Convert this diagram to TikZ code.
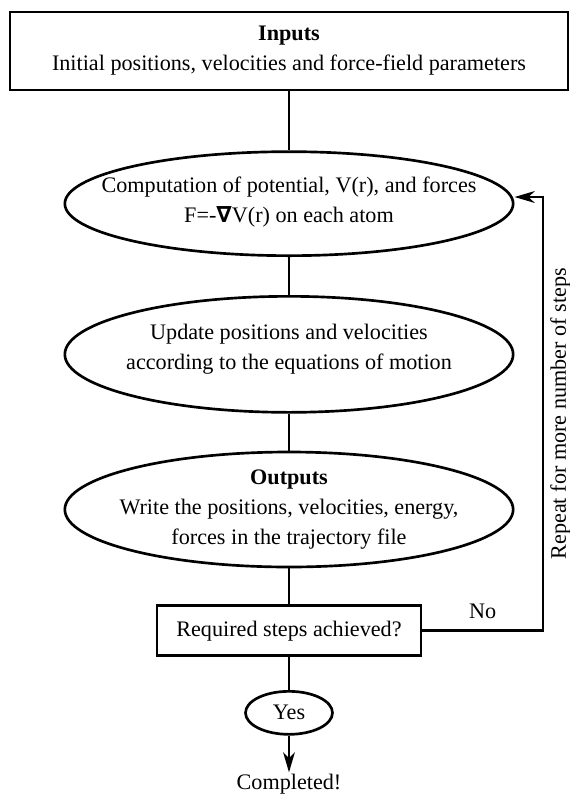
\documentclass[tikz,border=0pt]{standalone}
\usepackage{fontspec}
\setmainfont{Liberation Serif}
\newfontfamily\nablafont{DejaVu Sans}
\usetikzlibrary{positioning,shapes.geometric,arrows.meta}
\begin{document}
\begin{tikzpicture}[
    every node/.style={font=\fontsize{13.3}{18}\selectfont},
    box/.style={draw, rectangle, line width=1.6pt, inner sep=0pt},
    stage/.style={draw, ellipse, line width=1.6pt, inner sep=0pt, minimum width=269pt},
    txt/.style={align=center, inner sep=0pt},
    flow/.style={line width=1.6pt},
    arr/.style={line width=1.6pt, -{Stealth[length=12pt,width=7pt,inset=3.5pt]}}
  ]
  \useasboundingbox (0,0) rectangle (342pt,-477.6pt);

  \node (in) [box, minimum width=334.8pt, minimum height=46.8pt, align=center] at (173.4pt,-30.6pt)
    {\textbf{Inputs}\\Initial positions, velocities and force-field parameters};
  \node (pot) [stage, minimum height=62.4pt, below=35.4pt of in,
    label={[txt, yshift=1pt]center:{Computation of potential, V(r), and forces\\F=-{\nablafont\bfseries ∇}V(r) on each atom}}] {};
  \node (upd) [stage, minimum height=69.6pt, below=22.8pt of pot,
    label={[txt, yshift=3pt]center:{Update positions and velocities\\according to the equations of motion}}] {};
  \node (out) [stage, minimum height=69pt, below=22.2pt of upd,
    label={[txt]center:{\textbf{Outputs}\\Write the positions, velocities, energy,\\forces in the trajectory file}}] {};
  \node (chk) [box, minimum width=158.4pt, minimum height=30pt, below=21.6pt of out] {Required steps achieved?};
  \node (yes) [draw, ellipse, line width=1.6pt, inner sep=1pt, minimum width=52.2pt, minimum height=25.8pt, below=19.8pt of chk] {Yes};
  \node (done) [inner sep=1pt, below=22pt of yes] {Completed!};
  \coordinate (rt) at (325.8pt,0);

  \draw[flow] (in) -- (pot);
  \draw[flow] (pot) -- (upd);
  \draw[flow] (upd) -- (out);
  \draw[flow] (out) -- (chk);
  \draw[flow] (chk) -- (yes);
  \draw[arr] (yes) -- (done);
  \draw[arr] (chk.east) -- node[above=3pt]{No} (chk.east -| rt)
    -- node[sloped, below=3.5pt, inner sep=0pt]{Repeat for more number of steps} ([yshift=4pt]pot.east -| rt)
    -- ([yshift=4pt]pot.east);
\end{tikzpicture}
\end{document}
